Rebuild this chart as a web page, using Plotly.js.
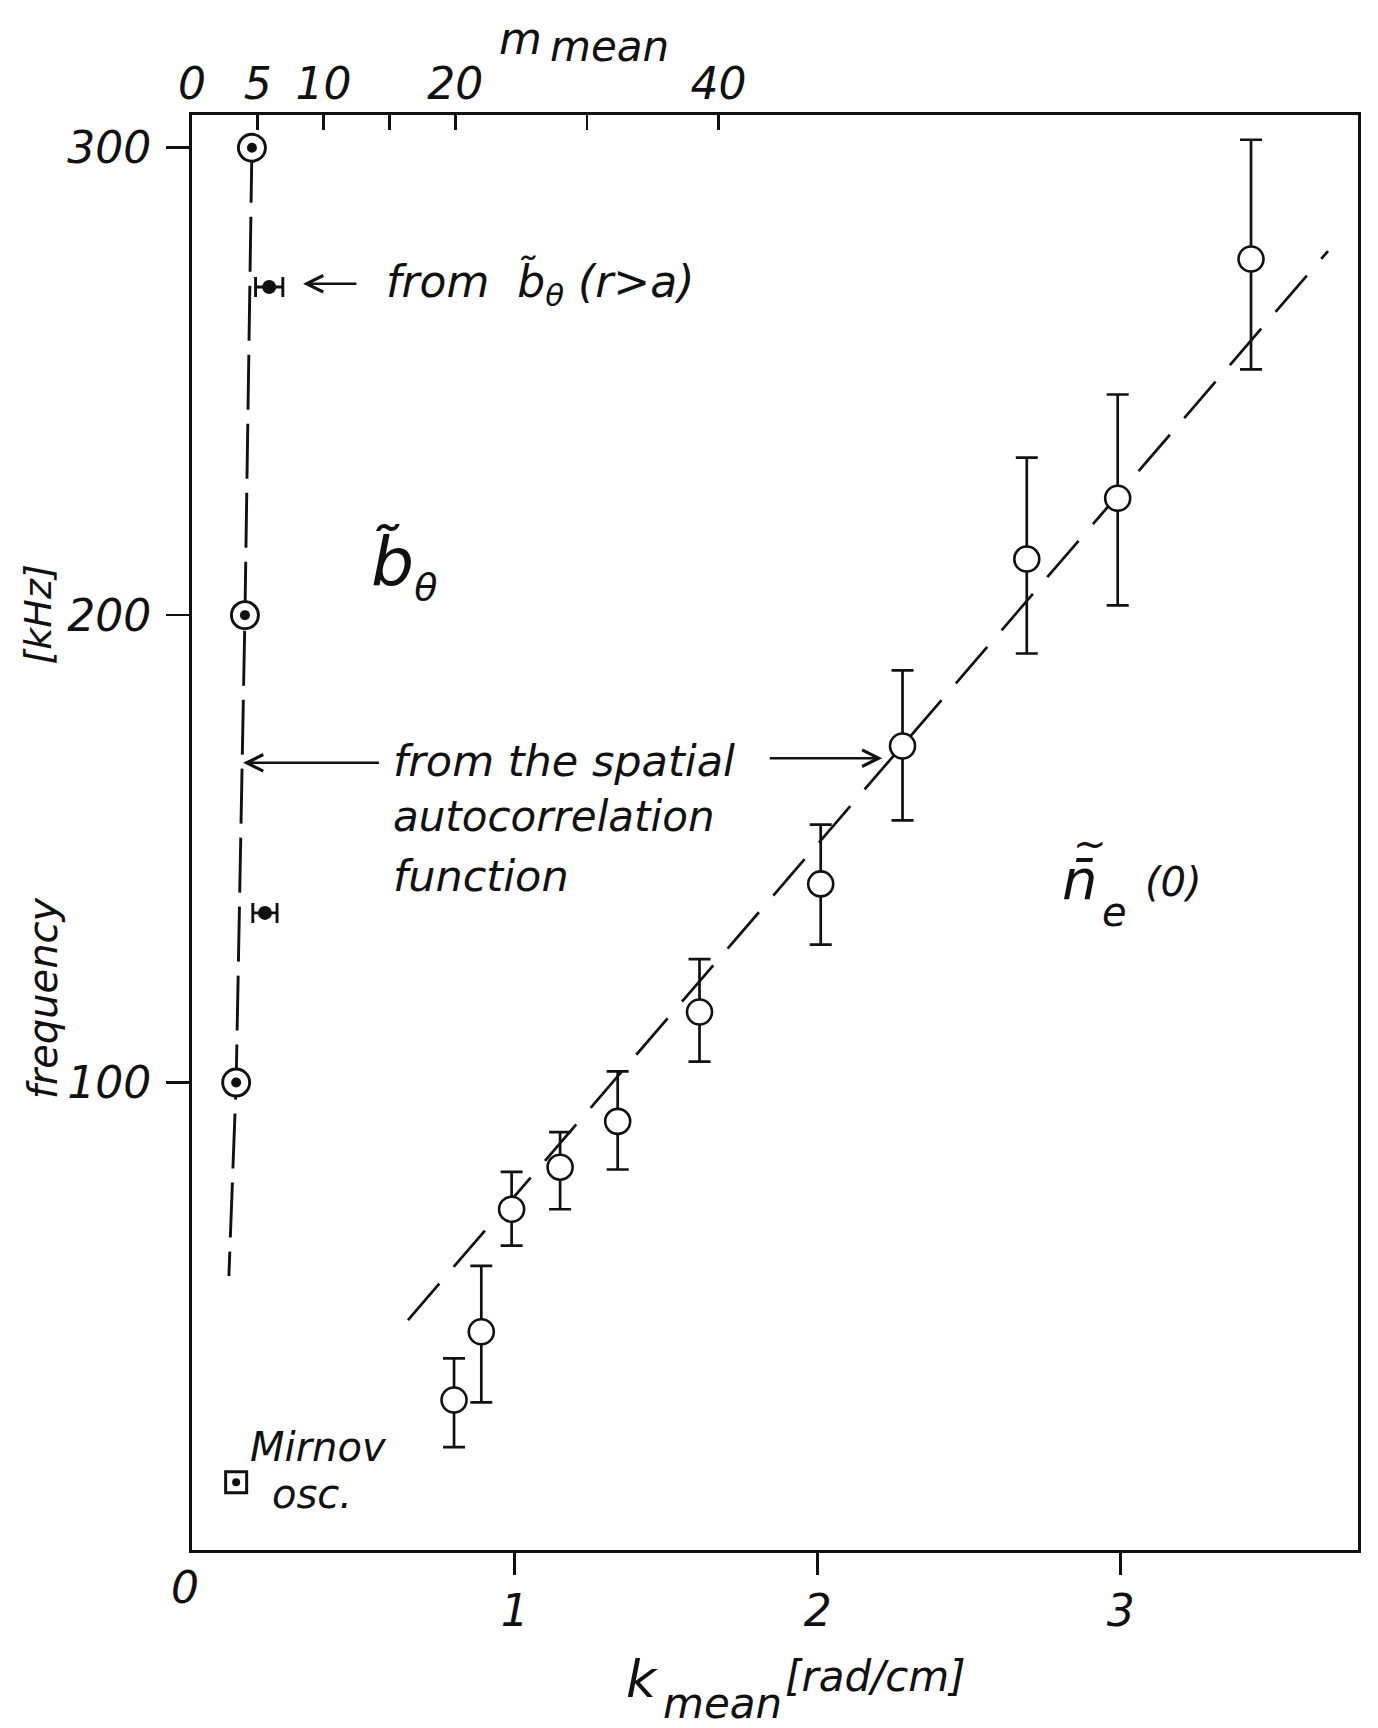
<!DOCTYPE html>
<html>
<head>
<meta charset="utf-8">
<script src="https://cdn.plot.ly/plotly-3.0.1.min.js"></script>
<style>
  html, body { margin: 0; padding: 0; background: #ffffff; }
  #chart { width: 1378px; height: 1728px; }
</style>
</head>
<body>
<div id="chart"></div>
<script>
// ---- data ----
// n_e(0) fluctuations: k_mean [rad/cm] vs frequency [kHz]
const kNe      = [0.80, 0.89, 0.99, 1.15, 1.34, 1.61, 2.01, 2.28, 2.69, 2.99, 3.43];
const fNe      = [32.1, 46.7, 72.9, 81.9, 91.7, 115.1, 142.5, 172.0, 212.0, 225.0, 276.2];
const fNeUp    = [8.9, 14.1, 8.0, 7.5, 10.7, 11.3, 12.7, 16.2, 21.7, 22.2, 25.5];
const fNeDown  = [10.1, 15.1, 7.8, 9.0, 10.3, 10.6, 13.0, 15.9, 20.2, 22.9, 23.6];
// dashed fit through n_e points
const kFit     = [0.648, 3.684];
const fFit     = [49.2, 277.9];
// b_theta from the spatial autocorrelation function (circled dots)
const kBsp     = [0.133, 0.110, 0.081];
const fBsp     = [300, 200, 100];
// dashed line through the b_theta points
const kBline   = [0.133, 0.110, 0.081, 0.057];
const fBline   = [300, 200, 100, 58.6];
// b_theta from r>a (filled dots with horizontal error bars)
const kBout    = [0.190, 0.176];
const fBout    = [270.2, 136.3];
const kBoutErr = [0.045, 0.040];
// Mirnov oscillations
const kMir     = [0.081];
const fMir     = [14.5];
// axis ticks
const kTicks   = [1, 2, 3];
const kTickTxt = ['1', '2', '3'];
const mTicks   = [0, 5, 10, 15, 20, 30, 40];
const mTickTxt = ['0', '5', '10', '', '20', '', '40'];
const fTicks   = [100, 200, 300];
const fTickTxt = ['100', '200', '300'];

const FONT = 'DejaVu Sans, Liberation Sans, sans-serif';
const INK = '#111111';

const traces = [
  { // fit line
    x: kFit, y: fFit, mode: 'lines', type: 'scatter',
    line: { color: INK, width: 2.7, dash: '48px,22px' }, hoverinfo: 'skip'
  },
  { // b_theta dashed line
    x: kBline, y: fBline, mode: 'lines', type: 'scatter',
    line: { color: INK, width: 2.9, dash: '55px,14px' }, hoverinfo: 'skip'
  },
  { // n_e points with error bars
    x: kNe, y: fNe, mode: 'markers', type: 'scatter',
    error_y: { type: 'data', symmetric: false, array: fNeUp, arrayminus: fNeDown,
               color: INK, thickness: 2.7, width: 11 },
    marker: { symbol: 'circle', size: 25, color: '#ffffff', line: { color: INK, width: 2.6 } }
  },
  { // b_theta spatial autocorrelation: open circle
    x: kBsp, y: fBsp, mode: 'markers', type: 'scatter',
    marker: { symbol: 'circle', size: 27, color: '#ffffff', line: { color: INK, width: 2.9 } }
  },
  { // ...and its centre dot
    x: kBsp, y: fBsp, mode: 'markers', type: 'scatter',
    marker: { symbol: 'circle', size: 10, color: INK }
  },
  { // b_theta (r>a)
    x: kBout, y: fBout, mode: 'markers', type: 'scatter',
    error_x: { type: 'data', array: kBoutErr, color: INK, thickness: 2.9, width: 10 },
    marker: { symbol: 'circle', size: 14, color: INK }
  },
  { // Mirnov square
    x: kMir, y: fMir, mode: 'markers', type: 'scatter',
    marker: { symbol: 'square', size: 21, color: '#ffffff', line: { color: INK, width: 3 } }
  },
  {
    x: kMir, y: fMir, mode: 'markers', type: 'scatter',
    marker: { symbol: 'circle', size: 8, color: INK }
  },
  { // empty trace to carry the top m axis
    x: [], y: [], xaxis: 'x2', yaxis: 'y', mode: 'markers', type: 'scatter', hoverinfo: 'skip'
  }
];

const txt = (text, x, y, size, extra) => Object.assign({
  text: text, x: x, y: y, xref: 'x', yref: 'y', showarrow: false,
  xanchor: 'left', yanchor: 'middle',
  font: { family: FONT, size: size, color: INK, style: 'italic' }
}, extra || {});

const ptxt = (text, x, y, size, extra) => Object.assign({
  text: text, x: x, y: y, xref: 'paper', yref: 'paper', showarrow: false,
  xanchor: 'center', yanchor: 'middle',
  font: { family: FONT, size: size, color: INK, style: 'italic' }
}, extra || {});

const arrow = (hx, hy, tx, ty) => ({
  text: '', x: hx, y: hy, ax: tx, ay: ty, xref: 'x', yref: 'y', axref: 'x', ayref: 'y',
  showarrow: true, arrowhead: 5, arrowsize: 1.3, arrowwidth: 2.5, arrowcolor: INK,
  standoff: 0, startstandoff: 0
});

const annotations = [
  // labels inside the frame
  txt('from  b\u0303<sub>\u03b8</sub> (r>a)', 0.569, 270.9, 44),
  arrow(0.302, 270.9, 0.483, 270.9),
  txt('b\u0303<sub><span style="font-size:38px">\u03b8</span></sub>', 0.52, 210.5, 68),
  txt('from the spatial', 0.592, 168.8, 43),
  txt('autocorrelation', 0.592, 157.0, 42),
  txt('function', 0.592, 144.2, 43),
  arrow(0.104, 168.4, 0.557, 168.4),
  arrow(2.213, 169.4, 1.837, 169.4),
  txt('n\u0304', 2.80, 143.5, 56),
  txt('~', 2.835, 151.0, 40),
  txt('e', 2.93, 136.5, 40),
  txt('(0)', 3.075, 142.9, 40),
  txt('Mirnov', 0.120, 22.0, 40),
  txt('osc.', 0.193, 12.0, 40),
  // axis titles
  ptxt('m', 0.282, 1.053, 44),
  ptxt('mean', 0.305, 1.048, 42, { xanchor: 'left' }),
  ptxt('k', 0.386, -0.090, 52),
  ptxt('mean', 0.402, -0.107, 42, { xanchor: 'left' }),
  ptxt('[rad/cm]', 0.507, -0.088, 42, { xanchor: 'left' }),
  ptxt('frequency', -0.128, 0.385, 40, { textangle: -90 }),
  ptxt('[kHz]', -0.132, 0.652, 38, { textangle: -90 }),
  ptxt('0', -0.006, -0.026, 44)
];

const axFont = { family: FONT, size: 44, color: INK, style: 'italic' };

const layout = {
  width: 1378, height: 1728,
  margin: { l: 192, r: 20, t: 115, b: 178 },
  paper_bgcolor: '#ffffff', plot_bgcolor: '#ffffff',
  showlegend: false,
  xaxis: {
    range: [-0.0647, 3.783], tickvals: kTicks, ticktext: kTickTxt,
    ticks: 'outside', ticklen: 22, tickwidth: 2.6, tickcolor: INK,
    showline: true, linewidth: 3, linecolor: INK, mirror: false,
    showgrid: false, zeroline: false, tickfont: axFont, ticklabelstandoff: -2
  },
  xaxis2: {
    overlaying: 'x', side: 'top', anchor: 'y',
    range: [0, 88.6], tickvals: mTicks, ticktext: mTickTxt,
    ticks: 'inside', ticklen: 15, tickwidth: 2.6, tickcolor: INK,
    showline: true, linewidth: 3, linecolor: INK,
    showgrid: false, zeroline: false, tickfont: axFont, ticklabelstandoff: -5
  },
  yaxis: {
    range: [0, 307], tickvals: fTicks, ticktext: fTickTxt,
    ticks: 'outside', ticklen: 23, tickwidth: 2.6, tickcolor: INK,
    showline: true, linewidth: 3, linecolor: INK, mirror: true,
    showgrid: false, zeroline: false, tickfont: axFont, ticklabelstandoff: 6
  },
  annotations: annotations
};

Plotly.newPlot('chart', traces, layout, { displayModeBar: false, staticPlot: true });
</script>
</body>
</html>
